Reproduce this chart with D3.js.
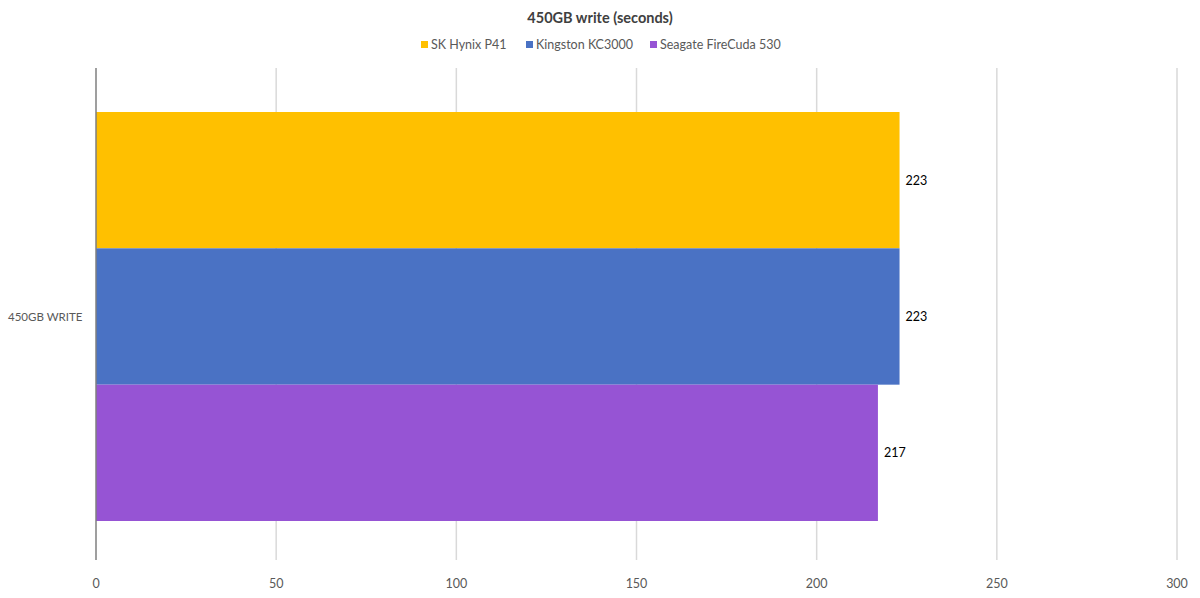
<!DOCTYPE html>
<html><head><meta charset="utf-8">
<script src="https://cdn.jsdelivr.net/npm/d3@7"></script>
<style>body{margin:0;background:#fff;} text{font-family:Lato,"Open Sans",sans-serif;}</style>
</head><body><svg id="c" width="1200" height="598"></svg>
<script>
const categories = ["450GB WRITE"];
const seriesNames = ["SK Hynix P41", "Kingston KC3000", "Seagate FireCuda 530"];
const seriesValues = [223, 223, 217];
const seriesColors = ["#FFC000", "#4A72C4", "#9654D4"];
const tickValues = [0, 50, 100, 150, 200, 250, 300];
const title = "450GB write (seconds)";

const svg = d3.select("#c");
const x = d3.scaleLinear().domain([0, 300]).range([96, 1177]);
const yCat = d3.scaleBand().domain(categories).range([112, 521]).padding(0);
const ySer = d3.scaleBand().domain(seriesNames).range([0, yCat.bandwidth()]);

// gridlines
svg.append("g").selectAll("line").data(tickValues.slice(1)).join("line")
  .attr("x1", d => x(d)).attr("x2", d => x(d)).attr("y1", 68).attr("y2", 560)
  .attr("stroke", "#d9d9d9").attr("stroke-width", 1.5);

// bars
const g = svg.append("g");
categories.forEach(cat => {
  g.selectAll("rect").data(seriesNames).join("rect")
    .attr("x", x(0)).attr("y", d => yCat(cat) + ySer(d))
    .attr("width", (d, i) => x(seriesValues[i]) - x(0))
    .attr("height", ySer.bandwidth())
    .attr("fill", (d, i) => seriesColors[i]);
  g.selectAll("text.v").data(seriesNames).join("text").attr("class", "v")
    .attr("x", (d, i) => x(seriesValues[i]) + 6)
    .attr("y", d => yCat(cat) + ySer(d) + ySer.bandwidth() / 2)
    .attr("dy", "0.35em").attr("font-size", 12.5).attr("fill", "#000")
    .text((d, i) => seriesValues[i]);
});

// axis line
svg.append("line").attr("x1", x(0)).attr("x2", x(0)).attr("y1", 68).attr("y2", 560)
  .attr("stroke", "#7f7f7f").attr("stroke-width", 1.5);

// x tick labels
svg.append("g").selectAll("text").data(tickValues).join("text")
  .attr("x", d => x(d)).attr("y", 588).attr("text-anchor", "middle")
  .attr("font-size", 12.5).attr("fill", "#595959").text(d => d);

// category label
svg.append("g").selectAll("text").data(categories).join("text")
  .attr("x", 8).attr("y", d => yCat(d) + yCat.bandwidth() / 2).attr("dy", "0.35em")
  .attr("font-size", 11.5).attr("fill", "#595959").text(d => d);

// title
svg.append("text").attr("x", 600).attr("y", 23).attr("text-anchor", "middle")
  .attr("font-size", 14.5).attr("font-weight", "bold").attr("fill", "#404040").text(title);

// legend
const legX = [421, 526, 650];
const leg = svg.append("g").selectAll("g").data(seriesNames).join("g")
  .attr("transform", (d, i) => `translate(${legX[i]},45)`);
leg.append("rect").attr("x", 0).attr("y", -4).attr("width", 7).attr("height", 7)
  .attr("fill", (d, i) => seriesColors[i]);
leg.append("text").attr("x", 10).attr("y", 0).attr("dy", "0.35em").attr("font-size", 12.5)
  .attr("fill", "#595959").text(d => d);
</script></body></html>
